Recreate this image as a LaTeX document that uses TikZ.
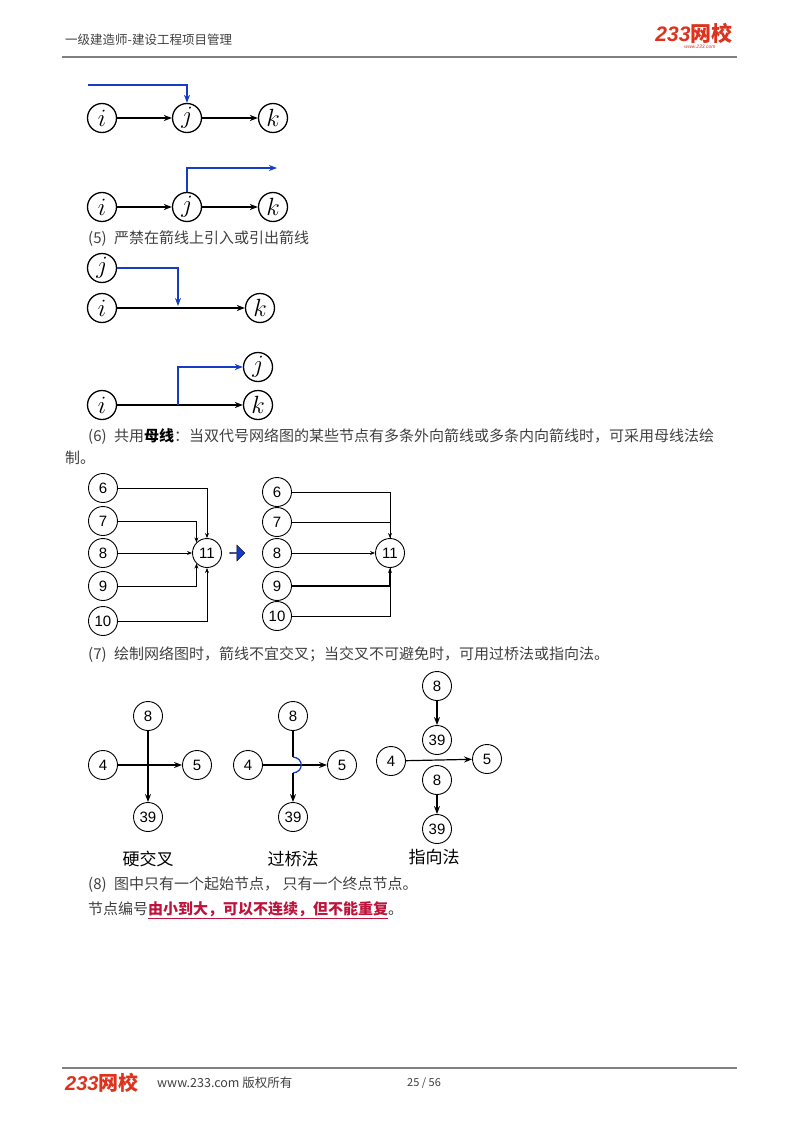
\documentclass[tikz,border=0pt]{standalone}
\usepackage{fontspec}
\newfontfamily\cjk{Noto Sans CJK SC}
\newfontfamily\numf{Liberation Sans}
\usetikzlibrary{arrows.meta,shapes.arrows}
\definecolor{bl}{RGB}{20,60,200}
\definecolor{lred}{RGB}{220,50,30}
\definecolor{ul}{RGB}{190,20,60}
\begin{document}
\begin{tikzpicture}[x=1pt,y=-1pt,
  ev/.style={draw,circle,line width=1.3pt,minimum size=29pt,inner sep=0pt,font=\fontsize{23}{23}\selectfont},
  nv/.style={draw,circle,line width=0.9pt,minimum size=29pt,inner sep=0pt,font=\numf\fontsize{15}{15}\selectfont},
  ar/.style={-{Stealth[length=8pt,width=6pt]},line width=1.4pt},
  sar/.style={-{Stealth[length=5pt,width=4pt]},line width=0.9pt},
  bs/.style={line width=0.9pt},
  ba/.style={-{Stealth[length=8pt,width=6pt]},line width=1.6pt,bl},
  tx/.style={anchor=west,inner sep=0pt,font=\cjk\fontsize{15}{15}\selectfont,text=black!75},
  lab/.style={font=\cjk\fontsize{17}{17}\selectfont}]
\useasboundingbox (0,0) rectangle (800,1132);
% header
\node[tx,anchor=west,font=\cjk\fontsize{12.5}{12.5}\selectfont] (h) at (65,40) {一级建造师-建设工程项目管理};
\node[anchor=center,inner sep=0pt,font=\numf\bfseries\itshape\fontsize{21}{21}\selectfont,text=lred] (lg) at (694,33) {233{\cjk 网校}};
\node[anchor=center,inner sep=0pt,font=\numf\itshape\fontsize{5}{5}\selectfont,text=lred] (lg2) at (700,47) {www.233.com};
\draw[gray,line width=1.2pt] (62,57) -- (737,57);
% diagram 1
\node[ev] (i1) at (102,118) {$i$};
\node[ev] (j1) at (187,118) {$j$};
\node[ev] (k1) at (273,118) {$k$};
\draw[ar] (i1) -- (j1); \draw[ar] (j1) -- (k1);
\coordinate (b1) at (88,85);
\draw[ba] (b1) -| (j1.north);
% diagram 2
\node[ev] (i2) at (102,207) {$i$};
\node[ev] (j2) at (187,207) {$j$};
\node[ev] (k2) at (273,207) {$k$};
\draw[ar] (i2) -- (j2); \draw[ar] (j2) -- (k2);
\coordinate (b2) at (277,168);
\draw[ba] (j2.north) |- (b2);
\node[tx] (t5) at (88,239) {(5)\enspace 严禁在箭线上引入或引出箭线};
% diagram 3
\node[ev] (j3) at (102,268) {$j$};
\node[ev] (i3) at (102,308) {$i$};
\node[ev] (k3) at (260,308) {$k$};
\draw[ar] (i3) -- (k3);
\coordinate (c3) at (178,306);
\draw[ba] (j3.east) -| (c3);
% diagram 4
\node[ev] (j4) at (258,367) {$j$};
\node[ev] (i4) at (102,405) {$i$};
\node[ev] (k4) at (258,405) {$k$};
\draw[ar] (i4) -- (k4);
\coordinate (c4) at (178,405);
\draw[ba] (c4) |- (j4.west);
% text 6
\node[tx] (t6) at (88,437) {(6)\enspace 共用{\bfseries\color{black}母线}：当双代号网络图的某些节点有多条外向箭线或多条内向箭线时，可采用母线法绘};
\node[tx] (t6b) at (65,458) {制。};
% left bus
\node[nv] (a6) at (103,488) {6};
\node[nv] (a7) at (103,521) {7};
\node[nv] (a8) at (103,553) {8};
\node[nv] (a9) at (103,586) {9};
\node[nv] (a10) at (103,621) {10};
\node[nv] (a11) at (207,553) {11};
\draw[sar] (a6) -| (a11.north);
\draw[sar] (a7) -| (a11.north west);
\draw[sar] (a8) -- (a11);
\draw[sar] (a9) -| (a11.south west);
\draw[sar] (a10) -| (a11.south);
\node[single arrow,draw=black,fill=bl,minimum width=16pt,single arrow head extend=2pt,minimum height=15pt,inner sep=0pt] (bar) at (237,553) {};
% right bus
\node[nv] (b6) at (277,492) {6};
\node[nv] (b7) at (277,522) {7};
\node[nv] (b8) at (277,553) {8};
\node[nv] (b9) at (277,586) {9};
\node[nv] (b10) at (277,616) {10};
\node[nv] (b11) at (390,553) {11};
\draw[bs] (b6) -| (b11.north);
\draw[sar] (b7) -| (b11.north);
\draw[sar] (b8) -- (b11);
\draw[bs] (b10) -| (b11.south);
\draw[sar,line width=1.3pt] (b9) -| (b11.south);
\node[tx] (t7) at (88,655) {(7)\enspace 绘制网络图时，箭线不宜交叉；当交叉不可避免时，可用过桥法或指向法。};
% hard crossing
\node[nv] (h8) at (148,716) {8};
\node[nv] (h4) at (103,765) {4};
\node[nv] (h5) at (197,765) {5};
\node[nv] (h39) at (148,817) {39};
\draw[ar] (h4) -- (h5);
\draw[ar] (h8) -- (h39);
\node[lab] (l1) at (148,859) {硬交叉};
% bridge
\node[nv] (g8) at (293,716) {8};
\node[nv] (g4) at (248,765) {4};
\node[nv] (g5) at (342,765) {5};
\node[nv] (g39) at (293,817) {39};
\draw[ar,line width=1.1pt] (g4) -- (g5);
\coordinate (ga) at (293,757);
\coordinate (gb) at (293,773);
\draw[line width=1.1pt] (g8) -- (ga);
\draw[bl,line width=1.3pt] (ga) .. controls (304,758) and (304,772) .. (gb);
\draw[ar,line width=1.1pt] (gb) -- (g39);
\node[lab] (l2) at (293,859) {过桥法};
% pointing
\node[nv] (p8) at (437,686) {8};
\node[nv] (p39) at (437,740) {39};
\node[nv] (p4) at (391,761) {4};
\node[nv] (p5) at (487,759) {5};
\node[nv] (q8) at (437,780) {8};
\node[nv] (q39) at (437,829) {39};
\draw[ar,line width=1.2pt] (p8) -- (p39);
\draw[ar,line width=1.2pt] (q8) -- (q39);
\draw[ar,line width=1.2pt] (p4) -- (p5);
\node[lab] (l3) at (434,857) {指向法};
% text 8
\node[tx] (t8) at (88,885) {(8)\enspace 图中只有一个起始节点，\ 只有一个终点节点。};
\node[tx] (t9) at (88,910) {节点编号{\bfseries\color{ul}\underline{由小到大，可以不连续，但不能重复}}。};
% footer
\draw[gray,line width=1.2pt] (62,1068) -- (737,1068);
\node[anchor=west,inner sep=0pt,font=\numf\bfseries\itshape\fontsize{20}{20}\selectfont,text=lred] (fl) at (65,1083) {233{\cjk 网校}};
\node[tx,font=\cjk\fontsize{12.5}{12.5}\selectfont] (ft) at (157,1083) {www.233.com 版权所有};
\node[tx,font=\cjk\fontsize{11}{11}\selectfont] (pg) at (407,1083) {25 / 56};
\end{tikzpicture}
\end{document}
